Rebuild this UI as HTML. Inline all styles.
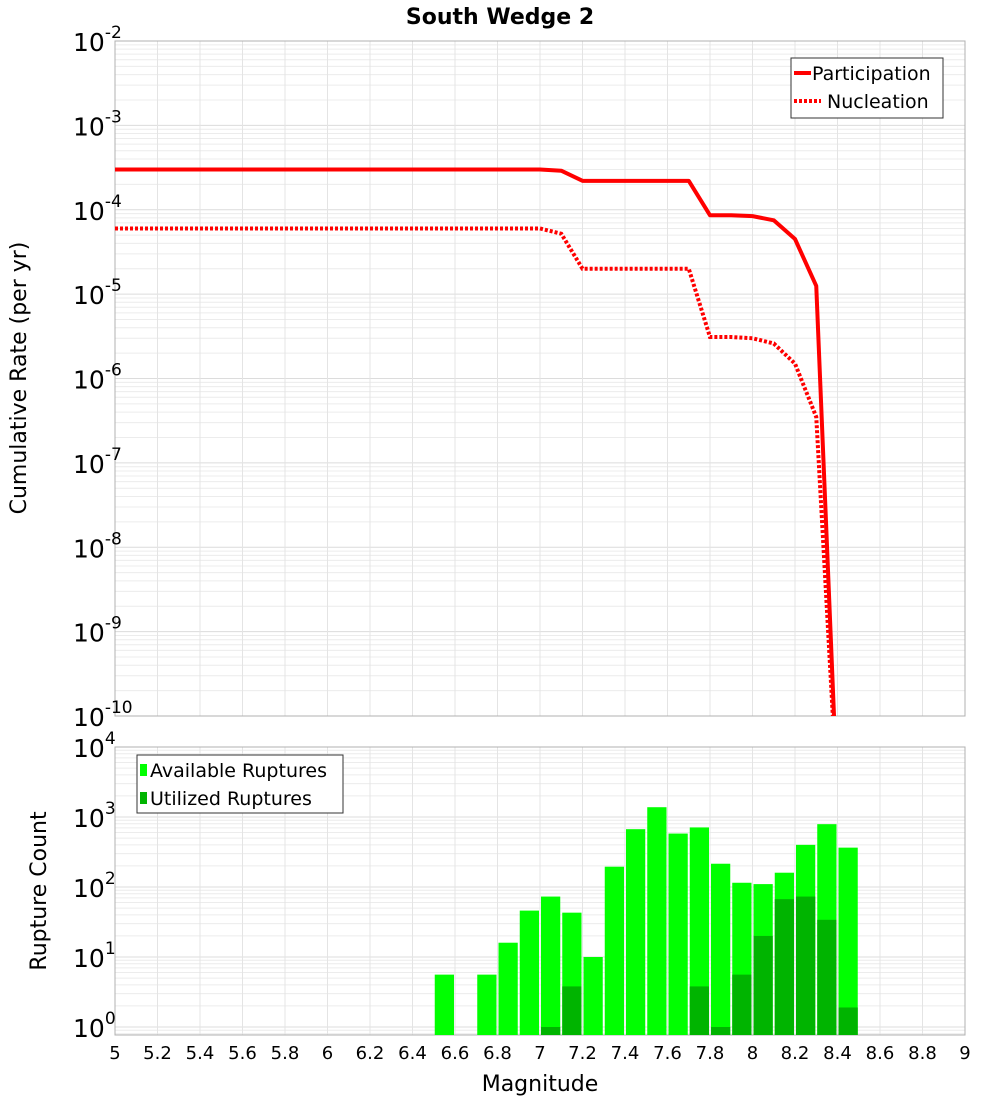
<!DOCTYPE html>
<html><head><meta charset="utf-8"><style>
body{margin:0;background:#fff;font-family:"DejaVu Sans","Liberation Sans",sans-serif;}
</style></head><body>
<svg id="c" width="1000" height="1100" xmlns="http://www.w3.org/2000/svg" font-family="DejaVu Sans, Liberation Sans, sans-serif"></svg>
<script>
const mags=[5,5.1,5.2,5.3,5.4,5.5,5.6,5.7,5.8,5.9,6,6.1,6.2,6.3,6.4,6.5,6.6,6.7,6.8,6.9,7,7.1,7.2,7.3,7.4,7.5,7.6,7.7,7.8,7.9,8,8.1,8.2,8.3,8.4];
const participation=[3e-4,3e-4,3e-4,3e-4,3e-4,3e-4,3e-4,3e-4,3e-4,3e-4,3e-4,3e-4,3e-4,3e-4,3e-4,3e-4,3e-4,3e-4,3e-4,3e-4,3e-4,2.9e-4,2.2e-4,2.2e-4,2.2e-4,2.2e-4,2.2e-4,2.2e-4,8.6e-5,8.6e-5,8.4e-5,7.5e-5,4.5e-5,1.25e-5,1e-11];
const nucleation=[6e-5,6e-5,6e-5,6e-5,6e-5,6e-5,6e-5,6e-5,6e-5,6e-5,6e-5,6e-5,6e-5,6e-5,6e-5,6e-5,6e-5,6e-5,6e-5,6e-5,6e-5,5.2e-5,2e-5,2e-5,2e-5,2e-5,2e-5,2e-5,3.1e-6,3.1e-6,3e-6,2.6e-6,1.5e-6,3.5e-7,1e-11];
const binMags=[6.5,6.6,6.7,6.8,6.9,7,7.1,7.2,7.3,7.4,7.5,7.6,7.7,7.8,7.9,8,8.1,8.2,8.3,8.4];
const available=[5.6,0,5.6,16,46,73,43,10,195,670,1380,580,710,215,115,110,160,400,790,365];
const utilized=[0,0,0,0,0,1,3.8,0,0,0,0,0,3.8,1,5.6,20,67,73,34,1.9];
const xTicks=[5,5.2,5.4,5.6,5.8,6,6.2,6.4,6.6,6.8,7,7.2,7.4,7.6,7.8,8,8.2,8.4,8.6,8.8,9];
const topExp=[-2,-3,-4,-5,-6,-7,-8,-9,-10];
const botExp=[4,3,2,1,0];

const NS="http://www.w3.org/2000/svg",svg=document.getElementById('c');
function el(t,a,p){const e=document.createElementNS(NS,t);for(const k in a)e.setAttribute(k,a[k]);(p||svg).appendChild(e);return e;}
const X0=115,X1=965,T0=41,T1=716,B0=747,B1=1035;
const x=m=>X0+(m-5)/4*(X1-X0);
const yT=v=>T0+(-2-Math.log10(v))*(T1-T0)/8;
const yB=v=>B0+(4-Math.log10(v))*70;

// title
let t=el('text',{x:500,y:24,'text-anchor':'middle','font-size':22,'font-weight':'bold'});t.textContent='South Wedge 2';


function panel(y0,y1,yf,lo,hi,name){
  const g=el('g',{});
  el('defs',{}).innerHTML=`<clipPath id="cl${name}"><rect x="${X0}" y="${y0}" width="${X1-X0}" height="${y1-y0}"/></clipPath>`;
  for(let e=lo;e<hi;e++)for(let k=1;k<10;k++){const yy=yf(k*Math.pow(10,e));if(yy<y0||yy>y1)continue;
    el('line',{x1:X0,x2:X1,y1:yy,y2:yy,stroke:k==1?'#dcdcdc':'#ececec','stroke-width':1},g);}
  xTicks.forEach(m=>el('line',{x1:x(m),x2:x(m),y1:y0,y2:y1,stroke:'#e4e4e4'},g));
  el('rect',{x:X0,y:y0,width:X1-X0,height:y1-y0,fill:'none',stroke:'#b0b0b0'},g);
  return g;
}
panel(T0,T1,yT,-10,-2,'top-plot');
panel(B0,B1,yB,-1,4,'bottom-plot');

// top y labels
topExp.forEach(e=>{const yy=yT(Math.pow(10,e));
  const tx=el('text',{x:73,y:yy+10,'font-size':25});tx.innerHTML=`10<tspan dy="-13" font-size="17">${e}</tspan>`;
  });
botExp.forEach(e=>{const yy=yB(Math.pow(10,e));
  const tx=el('text',{x:73,y:yy+10,'font-size':25});tx.innerHTML=`10<tspan dy="-13" font-size="17">${e}</tspan>`;
  });
xTicks.forEach(m=>{const tx=el('text',{x:x(m),y:1059,'text-anchor':'middle','font-size':18});tx.textContent=String(m);
  });
t=el('text',{x:540,y:1091,'text-anchor':'middle','font-size':22});t.textContent='Magnitude';

t=el('text',{x:0,y:0,'text-anchor':'middle','font-size':22,transform:'translate(26,378) rotate(-90)'});t.textContent='Cumulative Rate (per yr)';

t=el('text',{x:0,y:0,'text-anchor':'middle','font-size':22,transform:'translate(46,891) rotate(-90)'});t.textContent='Rupture Count';


// lines
const lg=el('g',{'clip-path':'url(#cltop-plot)'});
let p=el('polyline',{points:mags.map((m,i)=>x(m)+','+yT(participation[i])).join(' '),fill:'none',stroke:'#ff0000','stroke-width':4,'stroke-linejoin':'round'},lg);

p=el('polyline',{points:mags.map((m,i)=>x(m)+','+yT(nucleation[i])).join(' '),fill:'none',stroke:'#ff0000','stroke-width':4,'stroke-dasharray':'3,2'},lg);


// bars
const bg=el('g',{'clip-path':'url(#clbottom-plot)'});
binMags.forEach((m,i)=>{
  if(available[i]>0){const r=el('rect',{x:x(m)+1,y:yB(available[i]),width:x(0.1+5)-x(5)-2,height:B1-yB(available[i]),fill:'#00ff00'},bg);
    }
  if(utilized[i]>0){const r=el('rect',{x:x(m)+1,y:yB(utilized[i]),width:x(0.1+5)-x(5)-2,height:B1-yB(utilized[i]),fill:'#00b400'},bg);
    }
});

// legends
let L=el('g',{});
el('rect',{x:791,y:58,width:152,height:60,fill:'#fff',stroke:'#333'},L);
el('line',{x1:794,x2:811,y1:73,y2:73,stroke:'#f00','stroke-width':4},L);
el('line',{x1:794,x2:821,y1:101,y2:101,stroke:'#f00','stroke-width':4,'stroke-dasharray':'3,2'},L);
t=el('text',{x:812,y:80,'font-size':19},L);t.textContent='Participation';
t=el('text',{x:827,y:108,'font-size':19},L);t.textContent='Nucleation';
L=el('g',{});
el('rect',{x:137,y:755,width:206,height:58,fill:'#fff',stroke:'#333'},L);
el('rect',{x:140,y:764,width:7,height:12,fill:'#00ff00'},L);
el('rect',{x:140,y:792,width:7,height:12,fill:'#00b400'},L);
t=el('text',{x:150,y:777,'font-size':19},L);t.textContent='Available Ruptures';
t=el('text',{x:150,y:805,'font-size':19},L);t.textContent='Utilized Ruptures';
</script>
</body></html>
